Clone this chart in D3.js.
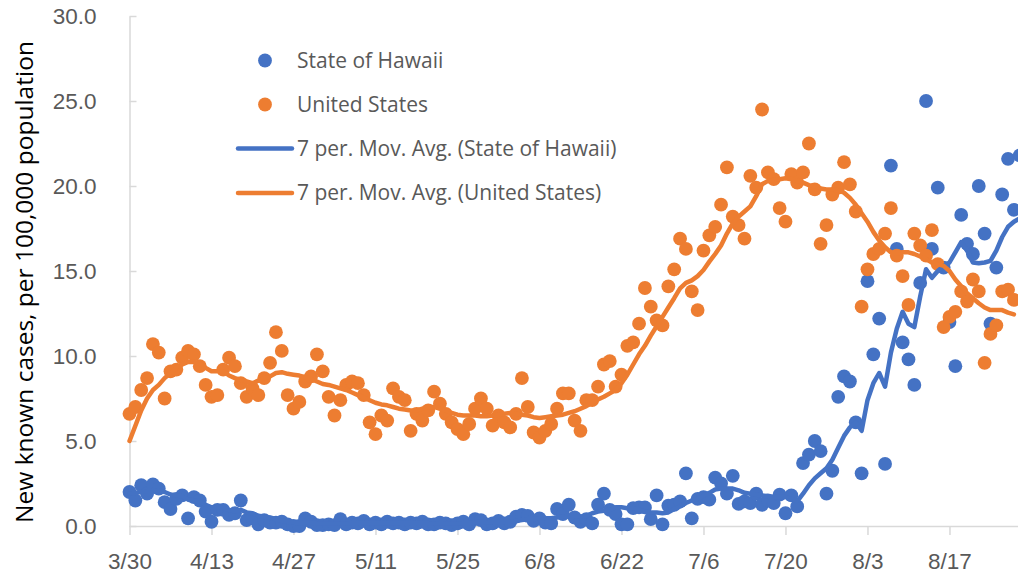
<!DOCTYPE html>
<html>
<head>
<meta charset="utf-8">
<script src="https://cdn.jsdelivr.net/npm/d3@7"></script>
<style>
  body { margin: 0; background: #fff; }
  svg { display: block; font-family: "Open Sans", sans-serif; }
  .axis path, .axis line { stroke: #d9d9d9; stroke-width: 1.5; }
  .axis text { fill: #595959; font-size: 22.5px; }
</style>
</head>
<body>
<svg id="canvas" width="1018" height="578"></svg>
<script>
var width = 1018;
var height = 578;

// first day shown on the chart, every value below is one day
var startDate = new Date(2020, 2, 30);

var xTickLabels = ["3/30", "4/13", "4/27", "5/11", "5/25", "6/8", "6/22", "7/6", "7/20", "8/3", "8/17"];
var yTicks = [0, 5, 10, 15, 20, 25, 30];

var seriesNames = ["State of Hawaii", "United States",
  "7 per. Mov. Avg. (State of Hawaii)", "7 per. Mov. Avg. (United States)"];

// new cases per 100,000, State of Hawaii
var hawaii = [
  2.0, 1.5, 2.4, 1.9, 2.45, 2.2, 1.4, 1.0, 1.6, 1.8,
  0.45, 1.7, 1.5, 0.85, 0.25, 0.95, 0.95, 0.65, 0.75, 1.5,
  0.35, 0.45, 0.1, 0.35, 0.2, 0.2, 0.25, 0.1, 0.0, 0.0,
  0.45, 0.25, 0.05, 0.05, 0.1, 0.05, 0.4, 0.1, 0.2, 0.15,
  0.3, 0.1, 0.2, 0.1, 0.25, 0.15, 0.2, 0.1, 0.2, 0.15,
  0.25, 0.1, 0.1, 0.2, 0.15, 0.05, 0.15, 0.25, 0.1, 0.4,
  0.35, 0.1, 0.15, 0.3, 0.15, 0.25, 0.55, 0.65, 0.6, 0.3,
  0.45, 0.2, 0.15, 1.0, 0.7, 1.25, 0.5, 0.25, 0.4, 0.15,
  1.25, 1.9, 0.95, 0.7, 0.1, 0.1, 1.05, 1.1, 1.1, 0.4,
  1.8, 0.1, 1.2, 1.25, 1.45, 3.1, 0.45, 1.6, 1.7, 1.55,
  2.85, 2.5, 1.9, 2.95, 1.3, 1.45, 1.35, 1.9, 1.25, 1.5,
  1.35, 1.85, 0.75, 1.8, 1.15, 3.7, 4.2, 5.0, 4.4, 1.9,
  3.25, 7.6, 8.8, 8.5, 6.1, 3.1, 14.4, 10.1, 12.2, 3.65,
  21.2, 16.3, 10.8, 9.8, 8.3, 14.3, 25.0, 16.3, 19.9, 15.2,
  12.0, 9.4, 18.3, 16.6, 16.0, 20.0, 17.2, 11.9, 15.2, 19.5,
  21.6, 18.6, 21.8
];

// new cases per 100,000, United States
var us = [
  6.6, 7.0, 8.0, 8.7, 10.7, 10.2, 7.5, 9.1, 9.2, 9.9,
  10.3, 10.1, 9.4, 8.3, 7.6, 7.7, 9.2, 9.9, 9.4, 8.4,
  7.6, 8.1, 7.7, 8.7, 9.6, 11.4, 10.3, 7.7, 6.9, 7.3,
  8.5, 8.8, 10.1, 9.1, 7.6, 6.5, 7.4, 8.3, 8.5, 8.4,
  7.7, 6.1, 5.4, 6.5, 6.2, 8.1, 7.6, 7.4, 5.6, 6.6,
  6.2, 6.8, 7.9, 7.2, 6.6, 6.1, 5.7, 5.4, 6.0, 6.9,
  7.5, 6.9, 5.9, 6.5, 6.1, 5.8, 6.6, 8.7, 7.0, 5.5,
  5.2, 5.6, 6.0, 6.9, 7.8, 7.8, 6.2, 5.6, 7.4, 7.4,
  8.2, 9.5, 9.7, 8.2, 8.9, 10.6, 10.8, 11.9, 14.0, 12.9,
  12.1, 11.8, 14.1, 15.1, 16.9, 16.3, 13.8, 12.7, 16.2, 17.1,
  17.6, 18.9, 21.1, 18.2, 17.7, 16.9, 20.6, 19.9, 24.5, 20.8,
  20.4, 18.7, 17.9, 20.7, 20.2, 20.8, 22.5, 19.8, 16.6, 17.7,
  19.5, 19.9, 21.4, 20.1, 18.5, 12.9, 15.1, 16.0, 16.3, 17.2,
  18.7, 15.9, 14.7, 13.0, 17.2, 16.5, 15.9, 17.4, 15.4, 11.7,
  12.3, 12.6, 13.8, 13.2, 14.5, 13.8, 9.6, 11.3, 11.8, 13.8,
  13.9, 13.3
];

// 7 period moving average, as drawn on the chart
var hawaiiAvg = [
  1.9, 1.95, 2.0, 2.05, 2.05, 2.1, 2.0, 1.85, 1.8, 1.75,
  1.55, 1.5, 1.45, 1.25, 1.1, 1.1, 1.05, 0.95, 0.85, 0.95,
  0.8, 0.75, 0.6, 0.55, 0.5, 0.4, 0.3, 0.25, 0.2, 0.15,
  0.2, 0.2, 0.15, 0.15, 0.15, 0.15, 0.15, 0.15, 0.16, 0.16,
  0.17, 0.17, 0.17, 0.16, 0.17, 0.17, 0.18, 0.16, 0.17, 0.16,
  0.17, 0.16, 0.15, 0.16, 0.15, 0.15, 0.15, 0.16, 0.16, 0.2,
  0.25, 0.2, 0.25, 0.25, 0.25, 0.25, 0.3, 0.35, 0.4, 0.4,
  0.45, 0.45, 0.45, 0.5, 0.55, 0.6, 0.6, 0.55, 0.6, 0.75,
  0.85, 0.9, 0.95, 1.1, 1.1, 1.05, 1.05, 0.95, 0.85, 0.8,
  0.8, 0.75, 0.8, 1.0, 1.15, 1.35, 1.5, 1.6, 1.8, 1.95,
  2.15, 2.2, 2.2, 2.2, 2.1, 1.95, 1.9, 1.85, 1.8, 1.75,
  1.72, 1.7, 1.7, 1.6, 1.45, 1.9, 2.4, 2.8, 3.1, 3.4,
  3.9, 4.6, 5.3, 5.8, 6.1, 5.6, 7.4, 8.4, 9.0, 8.2,
  10.2, 11.6, 12.6, 11.9, 11.7, 13.5, 15.1, 14.6, 15.0, 15.3,
  15.5, 16.1, 16.7, 16.2, 15.5, 15.45, 15.5, 15.6, 16.2, 17.0,
  17.6, 17.9, 18.1
];

var usAvg = [
  5.0, 5.9, 6.8, 7.5, 8.0, 8.3, 8.7, 9.0, 9.3, 9.5,
  9.65, 9.65, 9.55, 9.3, 9.1, 9.1, 9.1, 8.85, 8.7, 8.6,
  8.5, 8.4, 8.55, 8.7, 8.8, 9.0, 9.05, 8.95, 8.9, 8.85,
  8.75, 8.65, 8.5, 8.35, 8.3, 8.2, 8.1, 8.0, 7.85, 7.7,
  7.55, 7.4, 7.25, 7.15, 7.1, 7.0, 6.9, 6.85, 6.8, 6.8,
  6.9, 7.0, 7.0, 6.9, 6.8, 6.65, 6.55, 6.5, 6.5, 6.5,
  6.45, 6.45, 6.5, 6.55, 6.6, 6.65, 6.6, 6.55, 6.5, 6.4,
  6.35, 6.4, 6.45, 6.5, 6.55, 6.65, 6.75, 6.9, 7.05, 7.25,
  7.45, 7.6, 7.8, 8.0, 8.4, 8.9, 9.5, 10.1, 10.6, 11.2,
  11.75, 12.3, 12.85, 13.4, 13.98, 14.3, 14.45, 14.7, 15.06, 15.55,
  16.0, 16.5, 17.2, 17.8, 18.2, 18.5, 18.8, 19.4, 20.1, 20.3,
  20.35, 20.4, 20.45, 20.4, 20.3, 20.2, 20.05, 20.0, 19.85, 19.8,
  19.8, 19.75, 19.6, 19.3, 18.9, 18.4, 17.9, 17.3, 16.8, 16.4,
  16.1, 16.05, 16.1, 16.1, 16.0, 15.85, 15.7, 15.5, 15.4, 15.3,
  15.0, 14.5, 14.1, 13.7, 13.4, 13.1, 12.85, 12.7, 12.7, 12.7,
  12.55, 12.45
];

var blue = "#4472c4";
var orange = "#ed7d31";

function dayOf(i) { return d3.timeDay.offset(startDate, i); }
var parseTick = d3.timeParse("%m/%d/%Y");

var xScale = d3.scaleTime()
  .domain([startDate, dayOf(154)])
  .range([129.5, 129.5 + 154 * 5.857]);

var yScale = d3.scaleLinear()
  .domain([0, 30])
  .range([526, 16]);

var svg = d3.select("#canvas");

svg.append("rect").attr("width", width).attr("height", height).attr("fill", "#fff");

// axes
svg.append("g")
  .attr("class", "axis")
  .attr("transform", "translate(0," + yScale(0) + ")")
  .call(d3.axisBottom(xScale)
    .tickValues(xTickLabels.map(function(t) { return parseTick(t + "/2020"); }))
    .tickFormat(d3.timeFormat("%-m/%-d"))
    .tickSize(9)
    .tickSizeOuter(0)
    .tickPadding(18));

svg.append("g")
  .attr("class", "axis")
  .attr("transform", "translate(" + xScale(startDate) + ",0)")
  .call(d3.axisLeft(yScale)
    .tickValues(yTicks)
    .tickFormat(d3.format(".1f"))
    .tickSize(-7)
    .tickSizeOuter(0)
    .tickPadding(33));

svg.append("text")
  .attr("transform", "translate(33," + 282 + ") rotate(-90)")
  .attr("text-anchor", "middle")
  .attr("font-size", 24.5)
  .attr("fill", "#000")
  .text("New known cases, per 100,000 population");

// points
var plot = svg.append("g");

function dots(data, color) {
  plot.append("g")
    .selectAll("circle")
    .data(data)
    .enter().append("circle")
    .attr("cx", function(d, i) { return xScale(dayOf(i)); })
    .attr("cy", function(d) { return yScale(d); })
    .attr("r", 6.9)
    .attr("fill", color);
}

function avgLine(data, color) {
  var line = d3.line()
    .x(function(d, i) { return xScale(dayOf(i)); })
    .y(function(d) { return yScale(d); });
  plot.append("path")
    .datum(data)
    .attr("fill", "none")
    .attr("stroke", color)
    .attr("stroke-width", 4.5)
    .attr("stroke-linejoin", "round")
    .attr("stroke-linecap", "round")
    .attr("d", line);
}

dots(hawaii, blue);
dots(us, orange);
avgLine(hawaiiAvg, blue);
avgLine(usAvg, orange);

// legend
var legendY = [60.5, 104.5, 148.5, 193];
var legend = svg.append("g").attr("font-size", 21).attr("fill", "#595959");

seriesNames.forEach(function(name, i) {
  var color = i % 2 === 0 ? blue : orange;
  if (i < 2) {
    legend.append("circle").attr("cx", 265).attr("cy", legendY[i]).attr("r", 6.9).attr("fill", color);
  } else {
    legend.append("line")
      .attr("x1", 238).attr("x2", 292)
      .attr("y1", legendY[i]).attr("y2", legendY[i])
      .attr("stroke", color).attr("stroke-width", 4.5).attr("stroke-linecap", "round");
  }
  legend.append("text")
    .attr("x", 297)
    .attr("y", legendY[i])
    .attr("dy", "0.35em")
    .text(name);
});
</script>
</body>
</html>
